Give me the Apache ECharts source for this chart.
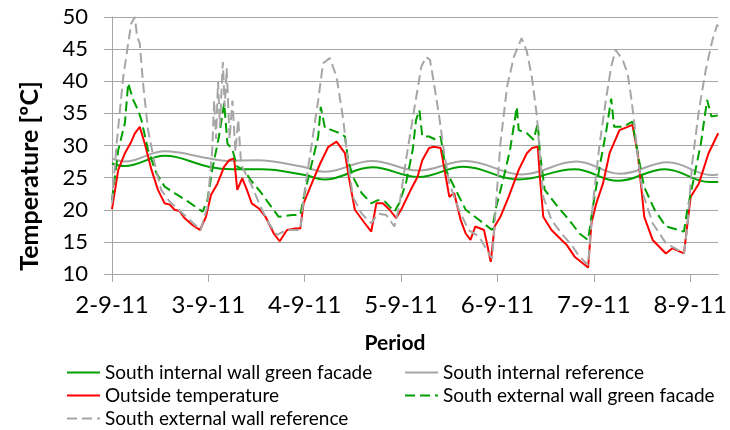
<!DOCTYPE html>
<html>
<head>
<meta charset="utf-8">
<script src="https://cdn.jsdelivr.net/npm/echarts@6/dist/echarts.min.js"></script>
<style>
  html, body { margin: 0; padding: 0; background: #fff; }
  #main { width: 730px; height: 430px; }
</style>
</head>
<body>
<div id="main"></div>
<script>
// x = days after 2-9-11 00:00, y = temperature in ºC
var dayLabels = ['2-9-11', '3-9-11', '4-9-11', '5-9-11', '6-9-11', '7-9-11', '8-9-11'];
var tempTicks = [10, 15, 20, 25, 30, 35, 40, 45, 50];

var internalGreen = [[0,27.2],[0.13,26.8],[0.55,28.4],[1.0,26.7],[1.25,26.3],[1.55,26.3],[2.0,25.4],[2.2,24.7],
  [2.7,26.6],[3.18,25.1],[3.65,26.7],[4.22,24.7],[4.8,26.3],[5.25,24.5],[5.74,26.3],[6.2,24.3],[6.29,24.3]];

var internalRef = [[0,28.0],[0.13,27.5],[0.55,29.1],[1.0,28.0],[1.2,27.6],[1.5,27.7],[1.98,26.7],[2.2,25.9],
  [2.7,27.6],[3.18,26.1],[3.67,27.6],[4.25,25.5],[4.82,27.5],[5.27,25.6],[5.77,27.4],[6.22,25.4],[6.29,25.5]];

var outside = [[0,20.1],[0.065,26.2],[0.134,28.8],[0.2,30.6],[0.237,31.9],[0.288,32.9],[0.34,30.3],[0.41,26.2],[0.477,23.1],
  [0.546,21.0],[0.6,20.8],[0.649,20.0],[0.7,19.8],[0.752,18.7],[0.837,17.6],[0.913,16.85],[0.975,18.9],[1.027,22.3],[1.095,24.1],
  [1.164,26.7],[1.215,27.7],[1.267,28.0],[1.30,23.1],[1.352,24.9],[1.40,23.1],[1.45,21.0],[1.524,20.2],
  [1.593,18.9],[1.679,16.3],[1.74,15.1],[1.816,16.85],[1.902,17.1],[1.954,17.1],[1.988,21.0],[2.073,24.1],
  [2.16,27.2],[2.245,29.8],[2.33,30.6],[2.417,28.8],[2.469,24.1],[2.52,20.0],[2.623,17.9],[2.69,16.6],
  [2.743,21.0],[2.81,21.0],[2.88,20.0],[2.949,18.7],[3.0,20.0],[3.10,23.1],[3.17,25.1],[3.22,27.7],
  [3.29,29.6],[3.34,29.8],[3.41,29.6],[3.464,25.1],[3.50,22.0],[3.55,22.6],[3.618,18.4],[3.67,16.3],
  [3.72,15.3],[3.77,17.4],[3.86,16.85],[3.89,14.8],[3.93,11.9],[3.97,17.4],[4.03,18.9],[4.116,22.0],
  [4.22,26.2],[4.305,28.8],[4.356,29.6],[4.418,29.8],[4.44,25.1],[4.475,18.9],[4.56,16.85],[4.665,15.3],
  [4.72,14.5],[4.80,12.7],[4.94,11.0],[4.975,17.9],[5.025,21.0],[5.095,24.1],[5.163,28.8],[5.266,32.4],
  [5.35,32.9],[5.40,33.2],[5.455,28.8],[5.523,18.9],[5.61,15.3],[5.747,13.2],[5.815,14.0],[5.935,13.2],
  [6.004,22.0],[6.09,24.1],[6.19,28.8],[6.29,31.9]];

var externalGreen = [[0,21.5],[0.065,29.3],[0.134,33.5],[0.168,39.7],[0.22,37.1],[0.27,35.5],[0.305,34.0],
  [0.374,29.3],[0.46,25.7],[0.546,23.6],[0.649,22.6],[0.786,21.3],[0.94,19.7],[0.99,21.5],[1.04,26.2],
  [1.11,31.4],[1.164,36.6],[1.198,30.3],[1.25,29.3],[1.30,26.7],[1.37,26.2],[1.44,24.6],[1.54,22.8],
  [1.627,21.0],[1.73,18.9],[1.867,19.2],[1.954,19.2],[1.99,22.0],[2.073,27.2],[2.14,31.4],[2.166,36.0],
  [2.21,32.7],[2.28,32.4],[2.366,31.9],[2.417,31.4],[2.45,27.7],[2.50,25.1],[2.59,22.6],[2.69,21.0],
  [2.76,21.5],[2.83,21.3],[2.93,19.7],[2.98,21.0],[3.05,24.1],[3.12,29.3],[3.155,34.0],[3.19,35.5],
  [3.22,31.4],[3.29,31.4],[3.36,30.9],[3.41,31.4],[3.464,26.2],[3.566,23.1],[3.67,20.0],[3.81,18.4],
  [3.944,16.85],[3.98,20.0],[4.065,25.1],[4.13,29.3],[4.20,36.0],[4.22,32.4],[4.305,31.9],[4.375,30.9],
  [4.418,33.5],[4.44,28.8],[4.49,23.1],[4.597,21.0],[4.77,17.9],[4.85,16.3],[4.94,15.3],[4.99,20.5],
  [5.06,26.7],[5.13,32.4],[5.18,37.3],[5.21,32.9],[5.30,32.9],[5.40,33.7],[5.455,28.8],[5.52,23.6],
  [5.63,20.0],[5.747,17.4],[5.935,16.6],[5.97,20.0],[6.04,25.1],[6.11,30.3],[6.175,37.1],[6.22,34.5],
  [6.29,34.7]];

var externalRef = [[0,21.0],[0.048,30.3],[0.117,40.7],[0.168,45.9],[0.20,49.0],[0.237,50.0],[0.26,47.0],
  [0.288,45.9],[0.322,39.7],[0.374,32.4],[0.443,27.2],[0.51,23.1],[0.597,21.3],[0.75,19.2],[0.92,16.85],
  [0.99,20.5],[1.04,29.3],[1.06,37.0],[1.08,31.0],[1.10,40.0],[1.12,33.0],[1.15,43.0],[1.17,36.0],
  [1.19,42.0],[1.22,31.0],[1.25,37.0],[1.28,29.0],[1.31,34.0],[1.34,27.0],[1.39,25.5],[1.44,24.1],
  [1.54,20.5],[1.627,17.9],[1.71,16.1],[1.816,16.85],[1.954,16.85],[1.99,22.0],[2.073,30.3],[2.14,37.1],
  [2.19,42.8],[2.26,43.6],[2.33,40.7],[2.40,34.0],[2.45,27.2],[2.50,22.0],[2.59,19.4],[2.69,17.9],
  [2.76,19.4],[2.845,19.2],[2.93,17.4],[2.98,20.5],[3.05,27.7],[3.14,36.0],[3.21,42.3],[3.26,43.8],
  [3.30,43.3],[3.34,39.7],[3.395,34.5],[3.447,28.8],[3.50,24.1],[3.60,20.0],[3.70,16.85],[3.81,15.8],
  [3.91,13.2],[3.944,12.4],[3.98,20.0],[4.03,30.3],[4.10,39.2],[4.17,43.8],[4.25,46.7],[4.305,44.6],
  [4.356,40.7],[4.41,34.5],[4.44,28.3],[4.475,22.0],[4.56,18.4],[4.665,16.3],[4.77,14.5],[4.85,12.7],
  [4.94,11.4],[4.99,21.0],[5.06,30.3],[5.13,37.6],[5.18,42.3],[5.225,44.9],[5.30,43.3],[5.35,41.2],
  [5.386,37.6],[5.42,33.5],[5.455,28.3],[5.507,22.6],[5.61,17.9],[5.747,14.8],[5.935,13.2],[5.97,17.4],
  [6.02,27.2],[6.09,35.5],[6.16,41.7],[6.23,46.4],[6.28,48.8],[6.29,48.5]];

var names = ['South internal wall green facade', 'South internal reference', 'Outside temperature',
  'South external wall green facade', 'South external wall reference'];

var font = 'Lato, "Open Sans", sans-serif';
var gridGray = '#a6a6a6';

var myChart = echarts.init(document.getElementById('main'));

function lineSeries(name, data, color, dashed, smooth) {
    return {
        name: name,
        type: 'line',
        data: data,
        symbol: 'none',
        smooth: smooth ? 0.4 : false,
        lineStyle: { color: color, width: 2, type: dashed ? [10, 5] : 'solid' },
        itemStyle: { color: color }
    };
}

var legendBase = {
    orient: 'vertical',
    top: 363,
    padding: 0,
    itemGap: 4,
    itemWidth: 33,
    itemHeight: 14,
    itemStyle: { opacity: 0 },
    textStyle: { fontFamily: font, fontSize: 19, color: '#000', lineHeight: 18 }
};

var option = {
    animation: false,
    grid: { left: 112, top: 17, width: 611, height: 257 },
    legend: [
        Object.assign({}, legendBase, { left: 66, data: [names[0], names[2], names[4]] }),
        Object.assign({}, legendBase, { left: 404, data: [names[1], names[3]] })
    ],
    xAxis: {
        type: 'value',
        min: 0,
        max: 6.29,
        interval: 1,
        axisLine: { show: true, lineStyle: { color: gridGray, width: 1 } },
        axisTick: { show: true, length: 8, lineStyle: { color: gridGray }, customValues: [0, 1, 2, 3, 4, 5, 6] },
        axisLabel: {
            customValues: [0, 1, 2, 3, 4, 5, 6],
            margin: 19,
            fontFamily: font,
            fontSize: 24,
            color: '#000',
            formatter: function (v) { return dayLabels[Math.round(v)] || ''; }
        },
        splitLine: { show: false }
    },
    yAxis: {
        type: 'value',
        min: tempTicks[0],
        max: tempTicks[tempTicks.length - 1],
        interval: 5,
        axisLine: { show: true, lineStyle: { color: gridGray, width: 1 } },
        axisTick: { show: true, length: 8, lineStyle: { color: gridGray } },
        axisLabel: { margin: 24, fontFamily: font, fontSize: 22, color: '#000' },
        splitLine: { show: true, lineStyle: { color: gridGray, width: 1 } }
    },
    graphic: [
        {
            type: 'text', x: 30, y: 176, rotation: Math.PI / 2,
            style: { text: 'Temperature [ºC]', font: 'bold 25px ' + font, fill: '#000', align: 'center', verticalAlign: 'middle' }
        },
        {
            type: 'text', x: 395, y: 343,
            style: { text: 'Period', font: 'bold 21px ' + font, fill: '#000', align: 'center', verticalAlign: 'middle' }
        }
    ],
    series: [
        lineSeries(names[0], internalGreen, '#00a000', false, true),
        lineSeries(names[1], internalRef, '#a6a6a6', false, true),
        lineSeries(names[2], outside, '#ff0000', false, false),
        lineSeries(names[3], externalGreen, '#00a000', true, false),
        lineSeries(names[4], externalRef, '#a6a6a6', true, false)
    ]
};

myChart.setOption(option);
</script>
</body>
</html>
